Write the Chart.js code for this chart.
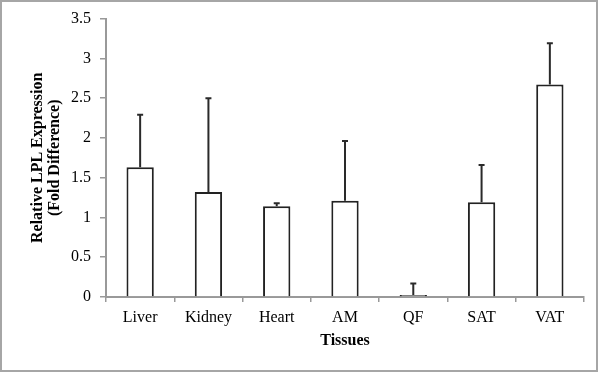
<!DOCTYPE html>
<html>
<head>
<meta charset="utf-8">
<script src="https://cdn.jsdelivr.net/npm/chart.js@4/dist/chart.umd.min.js"></script>
<style>
  html, body { margin: 0; padding: 0; background: #fff; }
  #wrap { position: relative; width: 600px; height: 372px; }
  #lplChart { position: absolute; left: 0; top: 0; }
  #frame {
    position: absolute; left: 0; top: 0; width: 598px; height: 372px;
    box-sizing: border-box; border: 2px solid #a6a6a6; pointer-events: none;
  }
</style>
</head>
<body>
<div id="wrap">
  <canvas id="lplChart" width="600" height="372"></canvas>
  <div id="frame"></div>
</div>
<script>
const tissues = ['Liver', 'Kidney', 'Heart', 'AM', 'QF', 'SAT', 'VAT'];
const foldDiff = [1.63, 1.32, 1.14, 1.21, 0.01, 1.19, 2.67];
// upper error (value added above the bar)
const errUp = [0.66, 1.18, 0.04, 0.75, 0.16, 0.47, 0.52];
const yTicks = [0, 0.5, 1, 1.5, 2, 2.5, 3, 3.5];

const serif = "'Liberation Serif', 'Times New Roman', serif";

// draws the one-sided error bars from the bar top up to value + error
const errorBars = {
    id: 'errorBars',
    afterDatasetsDraw(chart) {
        const ctx = chart.ctx;
        const yScale = chart.scales.y;
        const meta = chart.getDatasetMeta(0);
        ctx.save();
        ctx.strokeStyle = '#2a2a2a';
        ctx.lineWidth = 2;
        meta.data.forEach((bar, i) => {
            const top = yScale.getPixelForValue(foldDiff[i] + errUp[i]);
            ctx.beginPath();
            ctx.moveTo(bar.x, bar.y);
            ctx.lineTo(bar.x, top);
            ctx.moveTo(bar.x - 3, top);
            ctx.lineTo(bar.x + 3, top);
            ctx.stroke();
        });
        ctx.restore();
    }
};

const ctx = document.getElementById('lplChart').getContext('2d');
new Chart(ctx, {
    type: 'bar',
    data: {
        labels: tissues,
        datasets: [{
            data: foldDiff,
            backgroundColor: '#ffffff',
            borderColor: '#222222',
            borderWidth: 2,
            borderSkipped: 'bottom',
            minBarLength: 2,
            categoryPercentage: 0.8,
            barPercentage: 0.5
        }]
    },
    options: {
        responsive: false,
        animation: false,
        events: [],
        layout: { padding: { top: 17, right: 16, left: 0, bottom: 0 } },
        plugins: {
            legend: { display: false },
            tooltip: { enabled: false }
        },
        scales: {
            x: {
                afterFit: (scale) => { scale.height = 75; },
                grid: { drawOnChartArea: false, drawTicks: true, tickLength: 5, color: '#999999', lineWidth: 1.5 },
                border: { color: '#999999', width: 2 },
                ticks: { color: '#000', padding: 6, font: { family: serif, size: 16 } },
                title: {
                    display: true, text: 'Tissues', color: '#000',
                    font: { family: serif, size: 16, weight: 'bold' },
                    padding: { top: 0, bottom: 22 }
                }
            },
            y: {
                min: 0,
                max: 3.5,
                afterFit: (scale) => { scale.width = 106; },
                afterBuildTicks: (scale) => { scale.ticks = yTicks.map(v => ({ value: v })); },
                grid: { drawOnChartArea: false, drawTicks: true, tickLength: 6, color: '#999999', lineWidth: 1.5 },
                border: { color: '#999999', width: 2 },
                ticks: {
                    color: '#000', padding: 9, font: { family: serif, size: 16 },
                    callback: (v) => String(v)
                },
                title: {
                    display: true,
                    text: ['Relative LPL Expression', '(Fold Difference)'],
                    color: '#000',
                    font: { family: serif, size: 16, weight: 'bold', lineHeight: 1.08 },
                    padding: { top: 29, bottom: 0 }
                }
            }
        }
    },
    plugins: [errorBars]
});
</script>
</body>
</html>
